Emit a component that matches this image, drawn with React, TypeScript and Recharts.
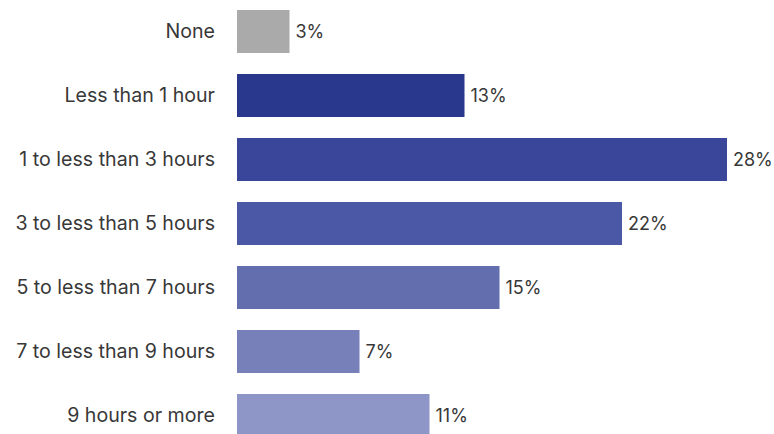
import React from 'react';
import { BarChart, Bar, XAxis, YAxis, Cell, LabelList } from 'recharts';

const categories = [
  'None',
  'Less than 1 hour',
  '1 to less than 3 hours',
  '3 to less than 5 hours',
  '5 to less than 7 hours',
  '7 to less than 9 hours',
  '9 hours or more',
];
const shares = [3, 13, 28, 22, 15, 7, 11];
const barColors = ['#aaaaaa', '#29378c', '#394699', '#4b58a5', '#636eaf', '#7880ba', '#8e96c8'];

const data = categories.map((name, i) => ({ name, value: shares[i] }));

const App: React.FC = () => {
  return (
    <div style={{ position: 'absolute', left: 0, top: 0, width: 774, height: 434, overflow: 'hidden', background: '#fff' }}>
      <BarChart
        width={774}
        height={447}
        data={data}
        layout="vertical"
        margin={{ top: -1, right: 12, bottom: 0, left: 0 }}
        barSize={43}
      >
        <XAxis type="number" domain={[0, 30]} hide />
        <YAxis
          type="category"
          dataKey="name"
          width={237}
          axisLine={false}
          tickLine={false}
          tickSize={0}
          tickMargin={22}
          tick={{ fill: '#383838', fontSize: 19.6, fontFamily: 'Inter, sans-serif' }}
        />
        <Bar dataKey="value" isAnimationActive={false}>
          {data.map((d, i) => (
            <Cell key={d.name} fill={barColors[i]} />
          ))}
          <LabelList
            dataKey="value"
            position="right"
            offset={6}
            formatter={(v: number) => `${v}%`}
            style={{ fill: '#383838', fontSize: 18, fontFamily: 'Inter, sans-serif' }}
          />
        </Bar>
      </BarChart>
    </div>
  );
};

export default App;
